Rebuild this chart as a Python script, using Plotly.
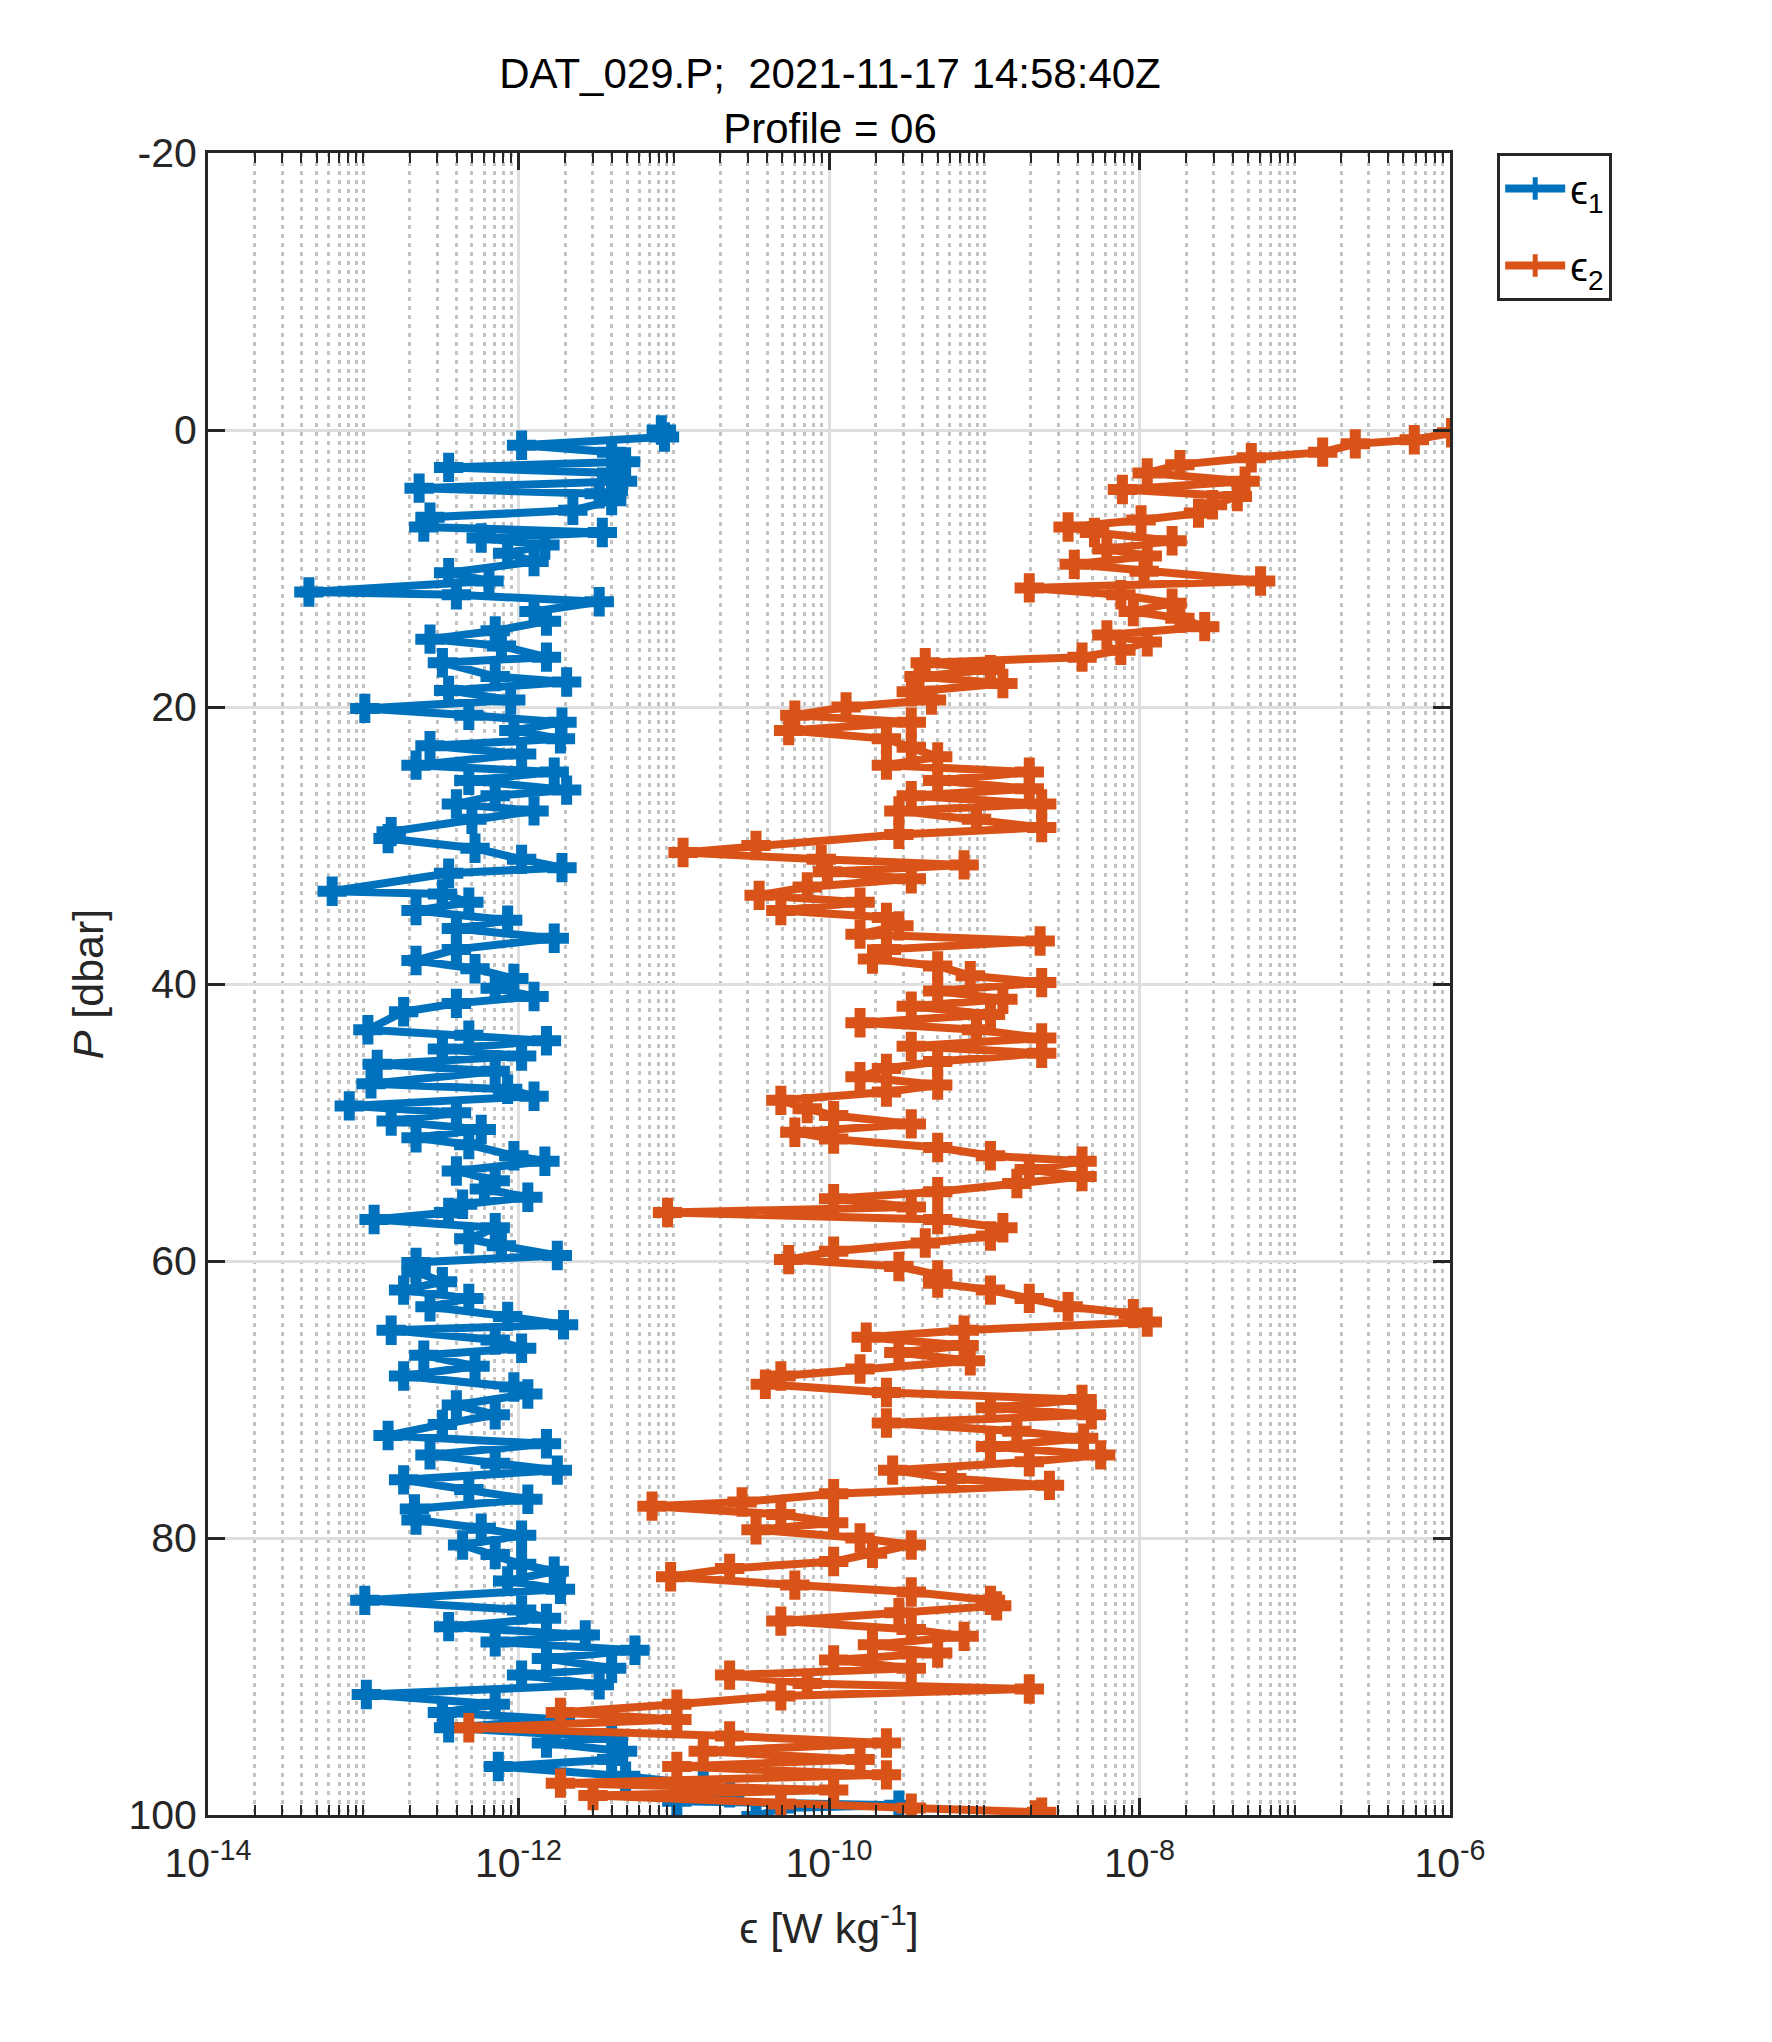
import plotly.graph_objects as go

# pressure [dbar] and log10(epsilon [W/kg]), shear probe 1
p1 = [0.0, 0.5, 1.1, 1.6, 2.3, 2.7, 3.1, 3.7, 4.2, 4.6, 5.1, 5.8, 6.3, 7.0, 7.4, 7.8, 8.3, 8.9, 9.5, 10.3,
      10.9, 11.7, 11.9, 12.4, 13.1, 13.8, 14.5, 15.1, 15.6, 16.4, 16.8, 17.8, 18.2, 18.8, 19.5, 20.1, 20.6, 21.1, 21.7, 22.3,
      22.8, 23.4, 24.2, 24.7, 25.3, 26.0, 26.4, 27.0, 27.5, 28.1, 29.0, 29.5, 30.2, 31.0, 31.6, 32.0, 33.3, 33.5, 34.1, 34.7,
      35.4, 36.0, 36.7, 37.5, 38.3, 38.9, 39.6, 40.3, 40.9, 41.4, 42.0, 43.3, 43.7, 44.1, 44.7, 45.2, 45.8, 46.3, 47.2, 47.6,
      48.1, 48.8, 49.3, 49.9, 50.5, 51.1, 51.6, 52.4, 52.8, 53.5, 54.2, 54.8, 55.4, 55.9, 56.5, 57.0, 57.6, 58.4, 58.9, 59.6,
      60.1, 60.8, 61.5, 62.1, 62.7, 63.3, 64.0, 64.6, 65.0, 65.7, 66.3, 66.8, 67.6, 68.3, 69.1, 69.6, 70.4, 71.1, 71.8, 72.6,
      73.2, 74.0, 74.6, 75.1, 75.8, 76.5, 77.2, 77.9, 78.7, 79.3, 79.8, 80.5, 81.2, 81.9, 82.4, 83.1, 83.7, 84.5, 85.2, 85.8,
      86.4, 87.0, 87.5, 88.1, 88.7, 89.4, 89.9, 90.6, 91.3, 92.0, 92.6, 93.1, 93.7, 94.4, 94.8, 95.4, 96.0, 96.5, 97.2, 97.8,
      98.4, 99.0, 99.3, 99.5, 100.1]
log_eps1 = [-11.08, -11.06, -11.98, -11.40, -11.31, -12.45, -11.40, -11.33, -12.64, -11.48, -11.40, -11.65, -12.57, -12.61, -11.46, -12.24, -11.83, -12.07, -11.90, -12.45,
            -12.19, -13.35, -12.40, -11.48, -11.90, -11.82, -12.15, -12.57, -12.11, -11.82, -12.49, -12.15, -11.69, -12.45, -12.05, -12.99, -12.32, -11.72, -12.03, -11.73,
            -12.57, -11.98, -12.66, -11.77, -12.32, -11.69, -12.15, -12.40, -11.90, -12.30, -12.82, -12.84, -12.28, -11.98, -11.72, -12.45, -13.20, -12.49, -12.32, -12.66,
            -12.07, -12.40, -11.77, -12.40, -12.66, -12.28, -12.03, -12.15, -11.90, -12.40, -12.74, -12.97, -12.32, -11.82, -12.49, -11.98, -12.91, -12.15, -12.95, -12.07,
            -11.90, -13.09, -12.40, -12.82, -12.24, -12.66, -12.32, -12.03, -11.83, -12.40, -12.15, -12.22, -11.94, -12.36, -12.45, -12.93, -12.15, -12.32, -12.11, -11.75,
            -12.66, -12.66, -12.49, -12.74, -12.32, -12.57, -12.07, -11.71, -12.82, -12.15, -11.98, -12.61, -12.28, -12.74, -12.03, -11.94, -12.40, -12.15, -12.49, -12.84,
            -11.82, -12.57, -12.15, -11.75, -12.74, -12.32, -11.94, -12.67, -12.66, -12.24, -11.98, -12.36, -12.15, -11.98, -11.77, -12.07, -11.73, -12.99, -11.98, -11.82,
            -12.45, -11.57, -12.15, -11.25, -11.82, -11.40, -11.98, -11.48, -12.98, -12.15, -12.49, -11.73, -12.45, -11.40, -11.82, -11.33, -11.40, -12.13, -11.31, -10.81,
            -10.64, -10.98, -9.55, -10.31, -10.47]

# shear probe 2
p2 = [0.2, 0.7, 1.0, 1.6, 2.0, 2.5, 3.1, 3.7, 4.3, 4.8, 5.4, 6.0, 6.5, 7.0, 7.4, 8.0, 8.6, 9.1, 9.7, 10.2,
      10.9, 11.4, 11.9, 12.5, 13.1, 13.6, 14.2, 14.8, 15.3, 15.9, 16.4, 16.8, 17.3, 17.8, 18.3, 18.9, 19.5, 20.0, 20.6, 21.1,
      21.7, 22.3, 22.9, 23.6, 24.2, 24.7, 25.3, 25.9, 26.4, 27.0, 27.5, 28.1, 28.7, 29.2, 30.0, 30.5, 31.0, 31.4, 31.9, 32.4,
      33.0, 33.6, 34.1, 34.7, 35.2, 35.8, 36.4, 36.9, 37.5, 38.2, 38.7, 39.4, 39.9, 40.5, 41.1, 41.6, 42.2, 42.8, 43.3, 43.9,
      44.5, 45.0, 45.6, 46.1, 46.7, 47.3, 47.8, 48.4, 49.0, 49.5, 50.1, 50.7, 51.2, 51.8, 52.4, 52.8, 53.4, 53.9, 54.4, 55.0,
      55.5, 56.1, 56.5, 57.0, 57.6, 58.2, 58.7, 59.3, 59.9, 60.4, 61.0, 61.6, 62.1, 62.7, 63.3, 63.8, 64.4, 65.0, 65.5, 66.1,
      66.6, 67.2, 67.8, 68.3, 68.9, 69.5, 70.0, 70.6, 71.1, 71.7, 72.3, 72.8, 73.4, 74.0, 74.5, 75.1, 75.7, 76.2, 76.8, 77.4,
      77.7, 78.3, 78.9, 79.4, 80.0, 80.5, 81.1, 81.7, 82.2, 82.8, 83.4, 83.9, 84.5, 84.9, 85.4, 86.0, 86.6, 87.1, 87.7, 88.3,
      88.8, 89.4, 89.9, 90.5, 90.9, 91.4, 92.0, 92.6, 93.1, 93.7, 94.3, 94.8, 95.4, 96.0, 96.5, 97.1, 97.7, 98.2, 98.6, 99.2,
      99.5, 99.8, 100.0]
log_eps2 = [-5.99, -6.23, -6.61, -6.82, -7.28, -7.74, -7.95, -7.32, -8.11, -7.37, -7.53, -7.62, -7.99, -8.46, -8.29, -7.79, -8.21, -7.95, -8.42, -7.97,
            -7.22, -8.71, -8.12, -7.79, -8.04, -7.74, -7.58, -8.21, -7.95, -8.12, -8.37, -9.38, -8.96, -9.42, -8.88, -9.47, -9.34, -9.89, -10.22, -9.47,
            -10.26, -9.63, -9.47, -9.30, -9.63, -8.71, -9.30, -8.71, -9.47, -8.63, -9.55, -9.05, -8.63, -9.55, -10.47, -10.94, -10.05, -9.13, -10.01, -9.47,
            -10.14, -10.45, -9.80, -10.31, -9.63, -9.55, -9.80, -8.64, -9.63, -9.72, -9.30, -9.09, -8.63, -9.30, -8.88, -9.47, -8.96, -9.80, -9.05, -8.63,
            -9.47, -8.63, -9.30, -9.63, -9.80, -9.30, -9.63, -10.31, -10.14, -9.97, -9.47, -10.22, -9.97, -9.30, -8.96, -8.37, -8.71, -8.37, -8.79, -9.30,
            -9.97, -9.47, -11.04, -9.30, -8.88, -8.96, -9.38, -9.97, -10.26, -9.55, -9.30, -9.30, -8.96, -8.71, -8.46, -8.04, -7.95, -9.13, -9.76, -9.13,
            -9.55, -9.09, -9.80, -10.31, -10.41, -9.63, -8.37, -8.96, -8.31, -9.63, -8.79, -8.36, -8.96, -8.25, -8.71, -9.59, -9.21, -8.58, -9.97, -10.56,
            -11.14, -10.31, -9.97, -10.47, -9.80, -9.47, -9.72, -9.97, -10.64, -11.02, -10.22, -9.47, -8.96, -8.92, -9.55, -10.31, -9.47, -9.13, -9.72, -9.30,
            -9.97, -9.47, -10.64, -10.14, -8.71, -10.31, -10.98, -11.73, -10.98, -12.32, -10.64, -9.63, -10.81, -9.80, -10.98, -9.63, -11.73, -9.97, -11.52, -10.31,
            -9.47, -8.63, -8.67]

x_decades = [-14, -12, -10, -8, -6]
y_ticks = [-20, 0, 20, 40, 60, 80, 100]

eps1 = [10 ** v for v in log_eps1]
eps2 = [10 ** v for v in log_eps2]

FONT = "Liberation Sans, Arial, Helvetica, sans-serif"
INK = "#262626"
BLUE = "#0072BD"
ORANGE = "#D95319"

# minor log ticks: every k*10^n that is not a labelled decade
minor_vals = [k * 10.0 ** n for n in range(-14, -6) for k in range(1, 10)
              if not (k == 1 and n in x_decades)]


def probe_trace(x, y, label, color, group):
    return go.Scatter(x=x, y=y, mode="lines+markers", name=label, legendgroup=group,
                      line=dict(color=color, width=8),
                      marker=dict(symbol="cross-thin", size=21, color=color,
                                  line=dict(color=color, width=11)))


fig = go.Figure()
fig.add_trace(probe_trace(eps1, p1, "ϵ<sub>1</sub>", BLUE, "e1"))
fig.add_trace(probe_trace(eps2, p2, "ϵ<sub>2</sub>", ORANGE, "e2"))

# page body has an 8px margin, so the figure is 8px smaller than the window
fig.update_layout(
    width=1764, height=2034,
    paper_bgcolor="white", plot_bgcolor="white",
    margin=dict(l=200, r=322, t=145, b=227),
    font=dict(family=FONT, size=36, color=INK),
    title=dict(text="DAT_029.P;\u00a0 2021-11-17 14:58:40Z<br>Profile = 06",
               x=(830 - 8) / 1764, xref="container", xanchor="center",
               y=1 - 80 / 2034, yref="container", yanchor="top",
               font=dict(family=FONT, size=42, color="#000000")),
    legend=dict(x=1.038, y=1, xanchor="left", yanchor="top",
                bordercolor=INK, borderwidth=3, bgcolor="white",
                font=dict(family=FONT, size=40, color="#000000"),
                itemwidth=60, tracegroupgap=22),
    showlegend=True,
)

fig.update_xaxes(
    type="log", range=[-14, -6],
    tickvals=[10.0 ** d for d in x_decades],
    ticktext=["10<sup>-%d</sup>" % -d for d in x_decades],
    ticks="inside", ticklen=17, tickwidth=2.5, tickcolor=INK,
    showline=True, linewidth=3, linecolor=INK, mirror="allticks",
    showgrid=True, gridcolor="#dedede", gridwidth=3,
    minor=dict(tickvals=minor_vals, ticks="inside", ticklen=10, tickwidth=2, tickcolor=INK,
               showgrid=True, gridcolor="#c2c2c2", gridwidth=3, griddash="4px,5px"),
    title=dict(text="ϵ [W kg<sup>-1</sup>]", standoff=28),
    tickfont=dict(size=41), ticklabelstandoff=10,
)
fig.update_yaxes(
    range=[100, -20], tickvals=y_ticks, ticktext=[str(v) for v in y_ticks],
    ticks="inside", ticklen=17, tickwidth=2.5, tickcolor=INK,
    showline=True, linewidth=3, linecolor=INK, mirror="allticks",
    showgrid=True, gridcolor="#dedede", gridwidth=3, zeroline=False,
    title=dict(text="<i>P</i> [dbar]", standoff=12),
    tickfont=dict(size=41),
)

fig.write_html("out.html")
